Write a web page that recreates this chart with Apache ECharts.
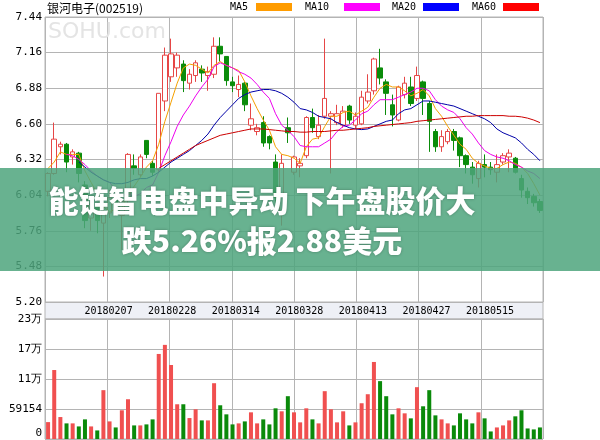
<!DOCTYPE html>
<html><head><meta charset="utf-8">
<script src="https://cdn.jsdelivr.net/npm/echarts@6.0.0/dist/echarts.min.js"></script>
<style>html,body{margin:0;padding:0;background:#fff}#c{width:600px;height:440px}</style>
</head><body><div id="c"></div><script>
const dates = ['20180124','20180125','20180126','20180129','20180130','20180131',
'20180201','20180202','20180205','20180206',
'20180207','20180208','20180209','20180212','20180213','20180214',
'20180222','20180223','20180226','20180227',
'20180228','20180301','20180302','20180305','20180306','20180307','20180308','20180309','20180312','20180313',
'20180314','20180315','20180316','20180319','20180320','20180321','20180322','20180323','20180326','20180327',
'20180328','20180329','20180330','20180402','20180403','20180404','20180409','20180410','20180411','20180412',
'20180413','20180416','20180417','20180418','20180419','20180420','20180423','20180424','20180425','20180426',
'20180427','20180502','20180503','20180504','20180507','20180508','20180509','20180510','20180511','20180514',
'20180515','20180516','20180517','20180518','20180521','20180522','20180523','20180524','20180525','20180528','20180529'];

const opens = [6.07,6.21,6.42,6.44,6.34,6.37,6.12,5.86,5.95,5.82,
5.90,6.04,5.88,6.00,6.27,6.20,6.47,6.29,6.24,6.78,
6.97,7.04,7.07,6.92,6.98,7.03,6.98,6.99,7.21,7.13,
6.93,6.87,6.92,6.59,6.54,6.61,6.50,6.30,5.90,6.57,
6.22,6.27,6.35,6.65,6.50,6.66,6.66,6.61,6.59,6.74,
6.59,6.60,6.78,6.86,7.04,6.93,6.75,6.63,6.83,6.89,
6.80,6.93,6.76,6.54,6.42,6.46,6.54,6.49,6.35,6.26,
6.17,6.28,6.26,6.22,6.30,6.34,6.33,6.17,6.07,6.03,5.99];
const closes = [6.21,6.48,6.44,6.30,6.38,6.21,5.84,5.97,5.84,5.90,
6.02,5.94,5.99,6.36,6.25,6.34,6.36,6.22,6.84,7.14,
7.15,7.14,6.94,6.99,7.08,7.00,7.01,7.21,7.15,6.94,
6.90,6.91,6.75,6.64,6.57,6.45,6.45,6.02,6.29,6.53,
6.34,6.29,6.65,6.57,6.59,6.80,6.68,6.68,6.70,6.63,
6.66,6.81,6.85,7.11,6.96,6.84,6.67,6.89,6.92,6.76,
6.98,6.80,6.62,6.42,6.50,6.54,6.47,6.35,6.28,6.20,
6.29,6.26,6.24,6.28,6.35,6.37,6.22,6.08,6.02,5.98,5.92];
const lows = [6.03,6.20,6.36,6.22,6.28,6.14,5.78,5.76,5.74,5.40,
5.86,5.88,5.61,5.97,6.20,6.18,6.33,6.19,6.22,6.70,
6.93,6.97,6.85,6.87,6.93,6.93,6.86,6.96,7.09,6.90,
6.85,6.81,6.70,6.55,6.51,6.42,6.40,5.98,5.80,6.45,
6.20,6.18,6.33,6.53,6.48,6.64,6.21,6.59,6.57,6.60,
6.56,6.59,6.76,6.83,6.91,6.67,6.58,6.62,6.80,6.74,
6.78,6.67,6.38,6.38,6.38,6.44,6.39,6.26,6.21,6.13,
6.10,6.18,6.20,6.14,6.28,6.22,6.21,6.02,5.97,5.95,5.90];
const highs = [6.22,6.61,6.46,6.45,6.40,6.38,6.15,6.02,5.98,5.96,
6.08,6.07,6.02,6.37,6.36,6.36,6.47,6.31,6.84,7.20,
7.27,7.16,7.10,7.03,7.10,7.06,7.05,7.28,7.28,7.13,
6.97,6.98,6.93,6.76,6.60,6.66,6.51,6.36,6.36,6.65,
6.35,6.33,6.66,6.72,6.67,7.27,6.70,6.75,6.74,6.75,
6.69,6.86,6.99,7.12,7.19,6.95,6.83,6.90,6.97,6.97,
7.05,6.94,6.78,6.56,6.55,6.56,6.56,6.50,6.36,6.30,
6.31,6.36,6.30,6.36,6.37,6.40,6.34,6.20,6.10,6.05,6.01];
const volumes = [33300,136000,43300,30800,30800,24800,38700,24800,16900,96300,
34700,22800,56600,78400,26800,26800,28800,38700,167700,185600,
145900,68500,68500,41300,58600,36700,36700,110000,66500,48600,
28800,30800,34700,52600,30800,38700,28800,60500,54600,84400,
52600,32800,60500,38700,30800,94300,58600,32800,54600,26800,
32800,70500,88300,151900,114100,84400,48600,60500,50600,40700,
102200,64500,96300,46600,38700,30800,26800,50600,38700,30800,
52600,40700,14900,22800,26800,36700,44700,56600,20800,18900,22800];

const ma5 = [6.25,6.30,6.38,6.36,6.36,6.36,6.23,6.14,6.05,5.95,
5.91,5.93,5.94,6.04,6.11,6.18,6.26,6.31,6.44,6.62,
6.77,6.92,7.04,7.07,7.06,7.03,7.00,7.06,7.09,7.06,
7.04,7.02,6.93,6.82,6.72,6.63,6.55,6.42,6.36,6.35,
6.33,6.29,6.42,6.48,6.49,6.58,6.66,6.66,6.69,6.70,
6.67,6.70,6.73,6.81,6.88,6.91,6.89,6.89,6.86,6.82,
6.84,6.87,6.82,6.72,6.66,6.58,6.51,6.44,6.40,6.33,
6.29,6.27,6.25,6.25,6.28,6.30,6.29,6.26,6.21,6.13,6.04];
const ma10 = [null,null,null,6.36,6.35,6.32,6.28,6.23,6.19,6.16,
6.14,6.08,6.04,6.05,6.03,6.05,6.10,6.12,6.22,6.35,
6.46,6.58,6.67,6.74,6.82,6.89,6.95,7.05,7.08,7.06,
7.04,7.01,6.99,6.96,6.91,6.85,6.80,6.68,6.59,6.55,
6.50,6.43,6.42,6.42,6.42,6.45,6.48,6.54,6.58,6.59,
6.63,6.68,6.70,6.75,6.79,6.79,6.79,6.81,6.83,6.85,
6.88,6.88,6.86,6.79,6.74,6.71,6.69,6.64,6.57,6.52,
6.45,6.39,6.36,6.34,6.33,6.31,6.28,6.26,6.23,6.21,6.17];
const ma20 = [null,null,null,null,null,6.30,6.26,6.22,6.19,6.16,
6.14,6.13,6.13,6.14,6.16,6.17,6.17,6.19,6.22,6.26,
6.30,6.33,6.36,6.39,6.43,6.47,6.52,6.59,6.65,6.70,
6.75,6.80,6.83,6.85,6.86,6.87,6.87,6.86,6.84,6.81,
6.77,6.72,6.71,6.69,6.66,6.65,6.64,6.61,6.59,6.57,
6.56,6.555,6.56,6.58,6.60,6.62,6.63,6.68,6.71,6.72,
6.75,6.78,6.78,6.77,6.76,6.75,6.74,6.72,6.70,6.68,
6.66,6.64,6.61,6.56,6.53,6.51,6.49,6.45,6.40,6.36,6.31];
const ma60 = [null,null,null,null,null,null,null,null,null,null,
null,null,null,null,null,null,null,null,6.25,6.28,
6.31,6.34,6.37,6.40,6.43,6.45,6.47,6.49,6.51,6.52,
6.53,6.54,6.55,6.56,6.56,6.56,6.555,6.55,6.545,6.54,
6.54,6.535,6.535,6.54,6.54,6.54,6.545,6.55,6.55,6.555,
6.56,6.565,6.57,6.58,6.585,6.59,6.595,6.60,6.605,6.61,
6.62,6.625,6.63,6.635,6.64,6.645,6.65,6.655,6.66,6.66,
6.665,6.665,6.665,6.665,6.665,6.66,6.66,6.655,6.645,6.63,6.61];

const priceTickLabels = ['5.20','5.48','5.76','6.04','6.32','6.60','6.88','7.16','7.44'];
const volTickLabels = ['0','59154','11万','17万','23万'];
const dateTickLabels = ['20180207','20180228','20180314','20180328','20180413','20180427','20180515'];
const maNames = ['MA5','MA10','MA20','MA60'];

const candleData = dates.map((d, i) => [opens[i], closes[i], lows[i], highs[i]]);

const GRID = '#b4b4b4';
const UP = '#e64646', DOWN = '#0a8c0a';
const mono = "'DejaVu Sans Mono', monospace";
const cjk = "'Noto Sans CJK SC', sans-serif";

const chart = echarts.init(document.getElementById('c'), null, {renderer: 'canvas'});
const hiddenCat = (gi) => ({type: 'category', gridIndex: gi, data: dates, boundaryGap: true, position: 'top',
  axisLine: {show: false}, axisTick: {show: false}, axisLabel: {show: false}, splitLine: {show: false}});
const vGrid = (gi) => ({type: 'value', gridIndex: gi, min: 0, max: 8, interval: 1, position: 'top',
  axisLine: {show: false}, axisTick: {show: false}, axisLabel: {show: false},
  splitLine: {show: true, lineStyle: {color: GRID, width: 1}}});

const lineSeries = (name, data, color) => ({
  type: 'line', name, data, xAxisIndex: 0, yAxisIndex: 0, symbol: 'none', showSymbol: false,
  lineStyle: {width: 1, color}, itemStyle: {color}, silent: true, animation: false, z: 4
});

chart.setOption({
  animation: false,
  grid: [
    {left: 45, top: 17, width: 498, height: 285, show: true, borderColor: GRID, borderWidth: 1, backgroundColor: '#fff'},
    {left: 45, top: 319, width: 498, height: 120, show: true, borderColor: GRID, borderWidth: 1, backgroundColor: '#fff'}
  ],
  xAxis: [
    hiddenCat(0), vGrid(0), hiddenCat(1), vGrid(1),
    {type: 'value', gridIndex: 0, min: 0, max: 7.833, interval: 1, position: 'bottom',
      axisLine: {show: false}, axisTick: {show: false}, splitLine: {show: false},
      axisLabel: {margin: 4, fontSize: 10, fontFamily: mono, color: '#000', showMinLabel: false, showMaxLabel: false,
        formatter: v => (Number.isInteger(v) && v >= 1 && v <= dateTickLabels.length) ? dateTickLabels[v - 1] : ''}}
  ],
  yAxis: [
    {type: 'value', gridIndex: 0, min: 5.2, max: 7.44, interval: 0.28,
      axisLine: {show: false}, axisTick: {show: false},
      splitLine: {show: true, lineStyle: {color: GRID, width: 1}},
      axisLabel: {margin: 3, fontSize: 11, fontFamily: mono, color: '#000',
        formatter: v => priceTickLabels[Math.round((v - 5.2) / 0.28)]}},
    {type: 'value', gridIndex: 1, min: 0, max: 236616, interval: 59154,
      axisLine: {show: false}, axisTick: {show: false},
      splitLine: {show: true, lineStyle: {color: GRID, width: 1}},
      axisLabel: {margin: 3, fontSize: 11, fontFamily: mono, color: '#000', verticalAlignMinLabel: 'bottom',
        formatter: v => volTickLabels[Math.round(v / 59154)]}}
  ],
  series: [
    {type: 'candlestick', name: 'K', xAxisIndex: 0, yAxisIndex: 0, data: candleData, barWidth: 5, silent: true,
      itemStyle: {color: '#ffffff', color0: DOWN, borderColor: UP, borderColor0: DOWN, borderWidth: 1}, z: 3},
    lineSeries(maNames[0], ma5, '#f5a000'),
    lineSeries(maNames[1], ma10, '#ee00ee'),
    lineSeries(maNames[2], ma20, '#0000a8'),
    lineSeries(maNames[3], ma60, '#cc0000'),
    {type: 'bar', name: 'VOL', xAxisIndex: 2, yAxisIndex: 1, data: volumes, barWidth: 4, silent: true,
      itemStyle: {color: p => closes[p.dataIndex] >= opens[p.dataIndex] ? '#f05050' : '#0a8a0a'}}
  ],
  graphic: [
    {type: 'rect', z: -5, shape: {x: 45, y: 302, width: 498, height: 17}, style: {fill: '#eef0f6', stroke: GRID, lineWidth: 1}},
    {type: 'text', z: 1, x: 48, y: 21, style: {text: 'SOHU.com', font: "22px 'DejaVu Sans'", fill: '#e4e4e4'}},
    {type: 'text', x: 47, y: 2, style: {text: '银河电子(002519)', font: "12px " + cjk, fill: '#000'}},
    {type: 'text', x: 230, y: 7, style: {text: maNames[0], font: "10px " + mono, fill: '#000', verticalAlign: 'middle'}},
    {type: 'rect', shape: {x: 256, y: 3, width: 36, height: 8}, style: {fill: '#ff9c00'}},
    {type: 'text', x: 305, y: 7, style: {text: maNames[1], font: "10px " + mono, fill: '#000', verticalAlign: 'middle'}},
    {type: 'rect', shape: {x: 344, y: 3, width: 36, height: 8}, style: {fill: '#ff00ff'}},
    {type: 'text', x: 392, y: 7, style: {text: maNames[2], font: "10px " + mono, fill: '#000', verticalAlign: 'middle'}},
    {type: 'rect', shape: {x: 423, y: 3, width: 36, height: 8}, style: {fill: '#0000ff'}},
    {type: 'text', x: 472, y: 7, style: {text: maNames[3], font: "10px " + mono, fill: '#000', verticalAlign: 'middle'}},
    {type: 'rect', shape: {x: 503, y: 3, width: 36, height: 8}, style: {fill: '#ff0000'}},
    {type: 'rect', z: 100, shape: {x: 0, y: 168, width: 600, height: 103}, style: {fill: 'rgba(78,165,125,0.85)'}},
    {type: 'text', z: 101, x: 262, y: 201, style: {text: '能链智电盘中异动 下午盘股价大', font: "900 30px " + cjk, fill: '#ffffff',
      align: 'center', verticalAlign: 'middle', textShadowColor: 'rgba(0,0,0,0.3)', textShadowBlur: 3}},
    {type: 'text', z: 101, x: 262, y: 241, style: {text: '跌5.26%报2.88美元', font: "900 30px " + cjk, fill: '#ffffff',
      align: 'center', verticalAlign: 'middle', textShadowColor: 'rgba(0,0,0,0.3)', textShadowBlur: 3}}
  ]
});
</script></body></html>
